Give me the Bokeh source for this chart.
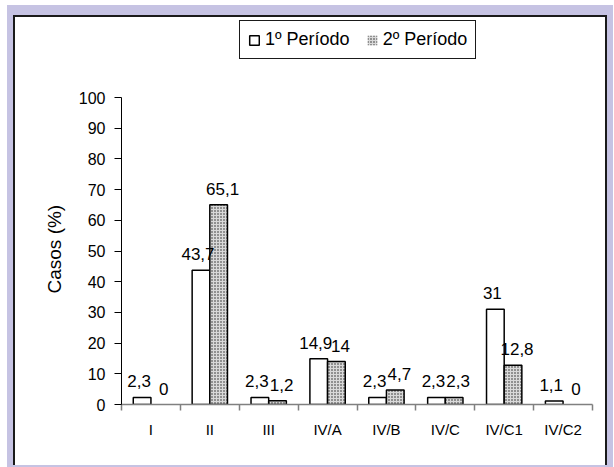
from bokeh.plotting import figure
from bokeh.models import (ColumnDataSource, FixedTicker, Legend, LegendItem,
                          Range1d, Title)
from bokeh.core.properties import value
from bokeh.embed import file_html
from bokeh.resources import INLINE

# Data
categories = ["I", "II", "III", "IV/A", "IV/B", "IV/C", "IV/C1", "IV/C2"]
periodo_1 = [2.3, 43.7, 2.3, 14.9, 2.3, 2.3, 31, 1.1]
periodo_2 = [0, 65.1, 1.2, 14, 4.7, 2.3, 12.8, 0]
series_names = ["1º Período", "2º Período"]
y_ticks = [0, 10, 20, 30, 40, 50, 60, 70, 80, 90, 100]
y_title = "Casos (%)"

FONT = "Liberation Sans"
LAVENDER = "#c6c3e3"
BAR_W = 0.3

# canvas layout (pixels)
W, H = 594, 450
LEFT, RIGHT, BOTTOM = 106, 17, 63
AXIS_TOP = 80          # where the value 100 sits, from the canvas top
Y_MAX = 100
plot_h = H - BOTTOM
# the frame reaches the canvas top so the legend can live inside it;
# the axis itself is bounded to 0..100
y_end = Y_MAX * plot_h / (plot_h - AXIS_TOP)


def fmt(v):
    return f"{v:g}".replace(".", ",")


pos = list(range(1, len(categories) + 1))

p = figure(width=W, height=H, output_backend="svg", toolbar_location=None,
           x_range=Range1d(0.5, len(categories) + 0.5), y_range=Range1d(0, y_end),
           min_border_left=LEFT, min_border_right=RIGHT, min_border_top=0,
           min_border_bottom=BOTTOM)
p.background_fill_color = "white"
p.border_fill_color = "white"
p.outline_line_color = None
p.grid.visible = False

# white panel with a dark edge, sitting on a lavender strip
p.margin = (15, 0, 0, 13)
p.styles = {
    "border-left": "2px solid #1a1a1a",
    "border-top": "2px solid #1a1a1a",
    "border-right": "2px solid #1a1a1a",
    "box-shadow": f"0 -4px 0 6px {LAVENDER}",
}

src1 = ColumnDataSource(dict(
    x=[i - BAR_W / 2 for i in pos], top=periodo_1,
    lc=["black" if v > 0 else None for v in periodo_1],
    lab=[fmt(v) for v in periodo_1]))
src2 = ColumnDataSource(dict(
    x=[i + BAR_W / 2 for i in pos], top=periodo_2,
    lc=["black" if v > 0 else None for v in periodo_2],
    lab=[fmt(v) for v in periodo_2]))

r1 = p.vbar(x="x", top="top", width=BAR_W, source=src1, fill_color="white",
            line_color="lc", line_width=1.5)
r2 = p.vbar(x="x", top="top", width=BAR_W, source=src2, fill_color="#d9d9d9",
            hatch_pattern="dot", hatch_color="#222222", hatch_scale=3,
            hatch_weight=2, line_color="lc", line_width=1.5)

# value labels above the bars, nudged apart so neighbours don't collide
for s, dx in ((src1, -3), (src2, 4)):
    p.text(x="x", y="top", text="lab", source=s, text_align="center",
           text_baseline="alphabetic", x_offset=dx, y_offset=-16,
           text_font=value(FONT), text_font_size="17px", text_color="black")

# y axis
ya = p.yaxis[0]
ya.ticker = FixedTicker(ticks=y_ticks)
ya.bounds = (0, Y_MAX)
ya.axis_line_color = "black"
ya.axis_line_width = 1
ya.major_tick_line_color = "black"
ya.major_tick_out = 7
ya.major_tick_in = 0
ya.minor_tick_line_color = None
ya.major_label_standoff = 9
ya.major_label_text_font = FONT
ya.major_label_text_font_size = "16px"
ya.major_label_text_color = "black"

# y-axis title, centred on the 0..100 span rather than the whole frame
p.add_layout(Title(text=y_title, align="left", offset=111, standoff=21,
                   text_font=FONT, text_font_size="19px",
                   text_font_style="normal", text_color="black"), "left")

# x axis: labels at category centres, ticks between categories
xa = p.xaxis[0]
xa.ticker = FixedTicker(ticks=pos, minor_ticks=[i + 0.5 for i in range(0, len(categories) + 1)])
xa.major_label_overrides = {i: c for i, c in zip(pos, categories)}
xa.axis_line_color = "#808080"
xa.axis_line_width = 1.5
xa.major_tick_line_color = None
xa.major_tick_out = 0
xa.major_tick_in = 0
xa.minor_tick_line_color = "#808080"
xa.minor_tick_line_width = 1.5
xa.minor_tick_out = 6
xa.minor_tick_in = 0
xa.major_label_standoff = 10
xa.major_label_text_font = FONT
xa.major_label_text_font_size = "15px"
xa.major_label_text_color = "black"

legend = Legend(items=[LegendItem(label=series_names[0], renderers=[r1]),
                       LegendItem(label=series_names[1], renderers=[r2])],
                orientation="horizontal", location=(118, 345),
                border_line_color="#1a1a1a", border_line_width=1.5,
                border_line_alpha=1,
                background_fill_color="white", background_fill_alpha=1,
                label_text_font=FONT, label_text_font_size="18px",
                label_text_color="black", glyph_width=12, glyph_height=12,
                label_standoff=5, spacing=16, padding=8, margin=0,
                label_height=15)
p.add_layout(legend, "center")

open("out.html", "w").write(file_html(p, INLINE))
